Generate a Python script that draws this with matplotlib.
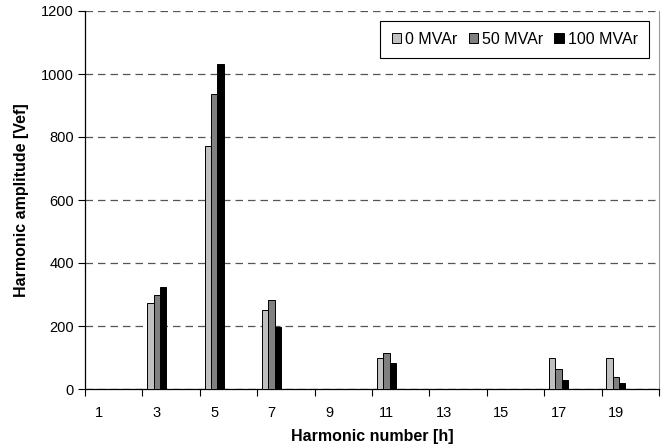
import matplotlib
matplotlib.use("Agg")
import matplotlib.pyplot as plt
import numpy as np

harmonics = ["1", "3", "5", "7", "9", "11", "13", "15", "17", "19"]
series_names = ["0 MVAr", "50 MVAr", "100 MVAr"]
mvar_0 = [0, 274, 771, 252, 0, 99, 0, 0, 98, 98]
mvar_50 = [0, 298, 936, 283, 0, 114, 0, 0, 65, 38]
mvar_100 = [0, 323, 1033, 198, 0, 81, 0, 0, 30, 19]
colors = ["#c0c0c0", "#808080", "#000000"]

plt.rcParams['font.family'] = ['Liberation Sans', 'DejaVu Sans']

fig = plt.figure(figsize=(6.61, 4.48), dpi=100)
ax = fig.add_axes([85/661, 1-389/448, (659-85)/661, (389-11)/448])

n = len(harmonics)
centers = np.arange(n) + 0.25
w = 0.11
for k, (vals, name, c) in enumerate(zip([mvar_0, mvar_50, mvar_100], series_names, colors)):
    ax.bar(centers + (k-1)*w, vals, width=w, color=c, edgecolor='black',
           linewidth=0.7, label=name, zorder=3)

ax.set_xlim(0, n)
ax.set_ylim(0, 1200)
ax.set_yticks(np.arange(0, 1201, 200))
ax.set_xticks(np.arange(0, n+1))
ax.set_xticklabels([])
ax.set_xticks(centers, harmonics, minor=True)
ax.tick_params(axis='x', which='minor', length=0, pad=12, labelsize=10.5)
ax.tick_params(axis='x', which='major', length=5, direction='out', width=0.8)
ax.tick_params(axis='y', length=5, direction='out', width=0.8, labelsize=10.5, pad=3)

ax.yaxis.grid(True, linestyle=(0, (6, 4)), color='#555555', linewidth=0.9, zorder=0)
ax.set_axisbelow(True)

ax.spines['top'].set_visible(False)
ax.spines['right'].set_color('#999999')
ax.spines['left'].set_linewidth(0.9)
ax.spines['bottom'].set_linewidth(0.9)

ax.set_xlabel("Harmonic number [h]", fontsize=11.5, fontweight='bold', labelpad=7)
ax.set_ylabel("Harmonic amplitude [Vef]", fontsize=11.5, fontweight='bold', labelpad=9)

leg = ax.legend(loc='upper right', bbox_to_anchor=(0.983, 0.974), borderaxespad=0,
                ncol=3, fontsize=11.5, frameon=True, fancybox=False, framealpha=1,
                edgecolor='black', handlelength=0.6, handleheight=0.6,
                handletextpad=0.25, columnspacing=0.7, borderpad=0.7)
leg.get_frame().set_linewidth(0.8)

fig.savefig("out.png", dpi=100)
